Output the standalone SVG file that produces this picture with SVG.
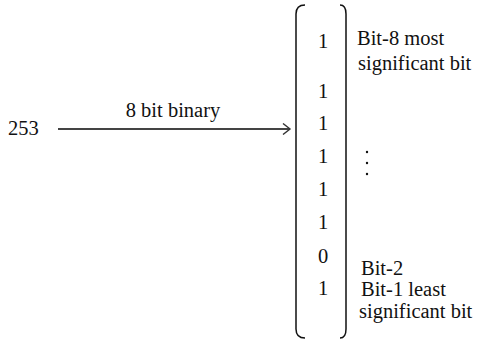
<svg xmlns="http://www.w3.org/2000/svg" width="478" height="343" viewBox="0 0 478 343">
<style>
text{font-size:20.5px;fill:#111;font-family:"Liberation Serif","Times New Roman",serif}
.num{text-anchor:middle}
.br{fill:none;stroke:#111;stroke-width:1.5}
</style>
<defs>
<marker id="ah" markerWidth="10" markerHeight="12" refX="8" refY="6" orient="auto" markerUnits="userSpaceOnUse">
<polyline points="1,0.5 8,6 1,11.5" fill="none" stroke="#333" stroke-width="1.4"/>
</marker>
</defs>
<rect width="478" height="343" fill="#fff"/>
<g id="input">
<text x="8" y="135">253</text>
</g>
<g id="connectors">
<line x1="58" y1="129" x2="290" y2="129" stroke="#444" stroke-width="1.8" marker-end="url(#ah)"/>
<text x="173" y="117" text-anchor="middle">8 bit binary</text>
</g>
<g id="vector">
<path class="br" d="M305,5 Q296,5 296,14 L296,329 Q296,338 305,338"/>
<path class="br" d="M340,5 Q346,5 346,14 L346,329 Q346,338 340,338"/>
<text class="num" x="323" y="48">1</text>
<text class="num" x="323" y="98">1</text>
<text class="num" x="323" y="130">1</text>
<text class="num" x="323" y="163">1</text>
<text class="num" x="323" y="196">1</text>
<text class="num" x="323" y="229">1</text>
<text class="num" x="323" y="263">0</text>
<text class="num" x="323" y="295">1</text>
</g>
<g id="labels">
<text x="357" y="45">Bit-8 most</text>
<text x="358" y="70">significant bit</text>
<circle cx="367" cy="152" r="1.2" fill="#111"/>
<circle cx="367" cy="163" r="1.2" fill="#111"/>
<circle cx="367" cy="174" r="1.2" fill="#111"/>
<text x="361" y="275">Bit-2</text>
<text x="361" y="296">Bit-1 least</text>
<text x="359" y="318">significant bit</text>
</g>
</svg>
